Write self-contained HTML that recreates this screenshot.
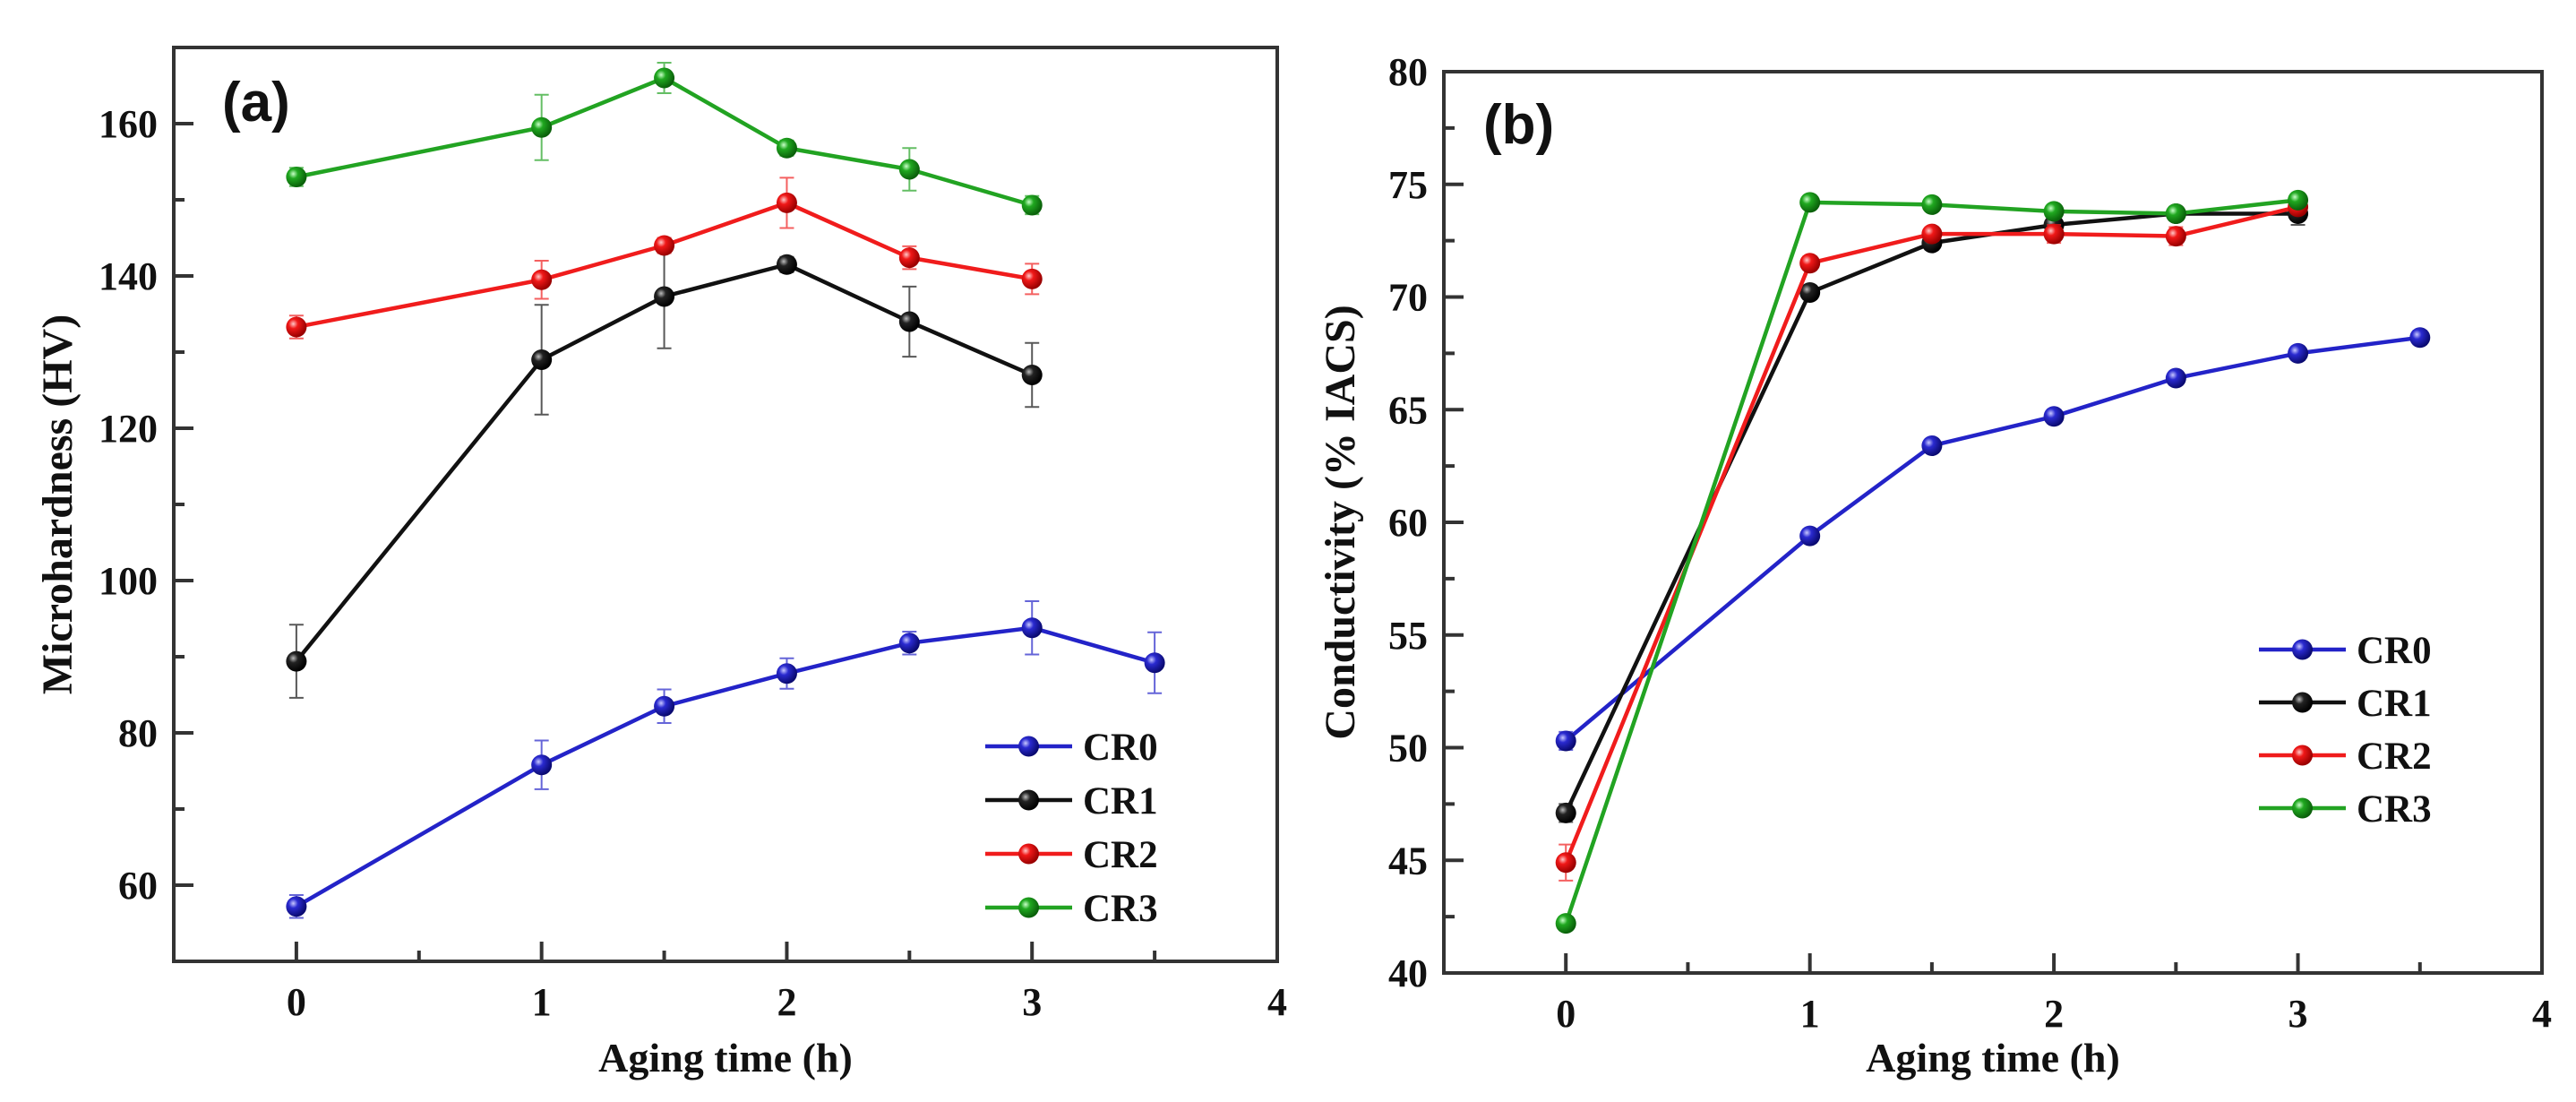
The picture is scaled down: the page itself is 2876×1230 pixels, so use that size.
<!DOCTYPE html>
<html><head><meta charset="utf-8"><style>
html,body{margin:0;padding:0;background:#fff;}
svg{display:block;}
text{font-family:"Liberation Serif",serif;font-weight:bold;fill:#111;}
</style></head><body>
<svg id="fig" width="2876" height="1230" viewBox="0 0 2876 1230" xmlns="http://www.w3.org/2000/svg">
<defs>
<radialGradient id="gBlue" cx="35%" cy="35%" r="65%"><stop offset="0" stop-color="#c8c8ff"/><stop offset="0.35" stop-color="#2a2ad0"/><stop offset="1" stop-color="#0a0a70"/></radialGradient>
<radialGradient id="gBlack" cx="35%" cy="35%" r="65%"><stop offset="0" stop-color="#bbbbbb"/><stop offset="0.35" stop-color="#222"/><stop offset="1" stop-color="#000"/></radialGradient>
<radialGradient id="gRed" cx="35%" cy="35%" r="65%"><stop offset="0" stop-color="#ffc8c8"/><stop offset="0.35" stop-color="#f01818"/><stop offset="1" stop-color="#900"/></radialGradient>
<radialGradient id="gGreen" cx="35%" cy="35%" r="65%"><stop offset="0" stop-color="#c8ffc8"/><stop offset="0.35" stop-color="#20a820"/><stop offset="1" stop-color="#0a600a"/></radialGradient>
</defs>
</svg>
<script>
// ---- Data ----
const seriesNames = ["CR0","CR1","CR2","CR3"];
const seriesColors = ["#2323c8","#111111","#f01c1c","#22a322"];
const seriesFills = ["url(#gBlue)","url(#gBlack)","url(#gRed)","url(#gGreen)"];

const hardX0 = [0,1,1.5,2,2.5,3,3.5];
const hardY0 = [57.2,75.8,83.5,87.8,91.8,93.8,89.2];
const hardE0 = [1.5,3.2,2.2,2.0,1.5,3.5,4.0];
const hardX1 = [0,1,1.5,2,2.5,3];
const hardY1 = [89.4,129.0,137.3,141.5,134.0,127.0];
const hardE1 = [4.8,7.2,6.8,1.0,4.6,4.2];
const hardX2 = [0,1,1.5,2,2.5,3];
const hardY2 = [133.3,139.5,144.0,149.6,142.4,139.6];
const hardE2 = [1.5,2.5,1.0,3.3,1.5,2.0];
const hardX3 = [0,1,1.5,2,2.5,3];
const hardY3 = [153.0,159.5,166.0,156.8,154.0,149.3];
const hardE3 = [1.2,4.3,2.0,1.0,2.8,1.2];

const condX0 = [0,1,1.5,2,2.5,3,3.5];
const condY0 = [50.3,59.4,63.4,64.7,66.4,67.5,68.2];
const condE0 = [0.4,0.3,0.3,0.3,0.3,0.3,0.3];
const condX1 = [0,1,1.5,2,2.5,3];
const condY1 = [47.1,70.2,72.4,73.2,73.7,73.7];
const condE1 = [0.4,0.3,0.3,0.3,0.3,0.5];
const condX2 = [0,1,1.5,2,2.5,3];
const condY2 = [44.9,71.5,72.8,72.8,72.7,74.0];
const condE2 = [0.8,0.3,0.3,0.4,0.4,0.3];
const condX3 = [0,1,1.5,2,2.5,3];
const condY3 = [42.2,74.2,74.1,73.8,73.7,74.3];
const condE3 = [0.3,0.2,0.2,0.2,0.2,0.2];

const xTicks = [0,1,2,3,4];
const hardTicks = [60,80,100,120,140,160];
const condTicks = [40,45,50,55,60,65,70,75,80];

// ---- Drawing ----
const NS = "http://www.w3.org/2000/svg";
const svg = document.getElementById("fig");
function el(tag, attrs, parent){
  const e = document.createElementNS(NS, tag);
  for (const k in attrs) e.setAttribute(k, attrs[k]);
  (parent||svg).appendChild(e);
  return e;
}

function panel(cfg){
  const g = el("g", {});
  
  
  const sx = v => cfg.L + (v - cfg.xmin) * (cfg.R - cfg.L) / (cfg.xmax - cfg.xmin);
  const sy = v => cfg.B - (v - cfg.ymin) * (cfg.B - cfg.T) / (cfg.ymax - cfg.ymin);

  // series
  cfg.series.forEach((s, i) => {
    const sg = el("g", {}, g);
    
    
    // error bars
    s.x.forEach((xv, j) => {
      const e = s.e[j]; const cx = sx(xv);
      const eb = el("path", {d:`M${cx},${sy(s.y[j]-e)}V${sy(s.y[j]+e)}M${cx-8},${sy(s.y[j]-e)}H${cx+8}M${cx-8},${sy(s.y[j]+e)}H${cx+8}`,
        stroke:seriesColors[i], "stroke-width":2, fill:"none", opacity:0.7}, sg);
      
      
    });
    const pts = s.x.map((xv, j) => sx(xv) + "," + sy(s.y[j])).join(" ");
    const ln = el("polyline", {points:pts, fill:"none", stroke:seriesColors[i], "stroke-width":4.5, "stroke-linejoin":"round"}, sg);
    
    
    s.x.forEach((xv, j) => {
      const c = el("circle", {cx:sx(xv), cy:sy(s.y[j]), r:11.5, fill:seriesFills[i]}, sg);
      
      
    });
  });

  // frame
  const fr = el("rect", {x:cfg.L, y:cfg.T, width:cfg.R-cfg.L, height:cfg.B-cfg.T, fill:"none", stroke:"#333", "stroke-width":4}, g);
  
  

  // x ticks
  for (let v = cfg.xmin; v <= cfg.xmax + 1e-9; v += 0.5) {
    const major = Math.abs(v - Math.round(v)) < 1e-9;
    el("line", {x1:sx(v), x2:sx(v), y1:cfg.B, y2:cfg.B - (major ? 22 : 12), stroke:"#333", "stroke-width":4}, g);
  }
  xTicks.forEach(v => {
    const t = el("text", {x:sx(v), y:cfg.B + 60, "text-anchor":"middle", "font-size":44}, g);
    t.textContent = v;
    
    
  });
  // y ticks
  for (let v = cfg.ymin; v <= cfg.ymax + 1e-9; v += cfg.yminor) {
    const major = cfg.yticks.some(t => Math.abs(t - v) < 1e-9);
    el("line", {x1:cfg.L, x2:cfg.L + (major ? 22 : 12), y1:sy(v), y2:sy(v), stroke:"#333", "stroke-width":4}, g);
  }
  cfg.yticks.forEach(v => {
    const t = el("text", {x:cfg.L - 18, y:sy(v) + 15, "text-anchor":"end", "font-size":44}, g);
    t.textContent = v;
    
    
  });
  // axis titles
  const xt = el("text", {x:(cfg.L + cfg.R) / 2, y:1196, "text-anchor":"middle", "font-size":46}, g);
  xt.textContent = "Aging time (h)";
  
  
  const yt = el("text", {x:0, y:0, "text-anchor":"middle", "font-size":48, transform:`translate(${cfg.ytx},${(cfg.T + cfg.B) / 2}) rotate(-90)`}, g);
  yt.textContent = cfg.ytitle;
  
  
  // panel label
  const pl = el("text", {x:cfg.plx, y:cfg.ply, "font-size":62, style:'font-family:"Liberation Sans",sans-serif'}, g);
  pl.textContent = cfg.label;
  
  
  // legend
  const lg = el("g", {}, g);
  
  
  seriesNames.forEach((n, i) => {
    const y = cfg.legY + i * cfg.legDy;
    const eg = el("g", {}, lg);
    
    
    el("line", {x1:cfg.legX, x2:cfg.legX + cfg.legW, y1:y, y2:y, stroke:seriesColors[i], "stroke-width":4.5}, eg);
    el("circle", {cx:cfg.legX + cfg.legW / 2, cy:y, r:11.5, fill:seriesFills[i]}, eg);
    const t = el("text", {x:cfg.legX + cfg.legW + 12, y:y + 15, "font-size":43}, eg);
    t.textContent = n;
  });
}

panel({name:"panel-a-microhardness", L:194, R:1426, T:53, B:1073, xmin:-0.5, xmax:4, ymin:50, ymax:170,
  yticks:hardTicks, yminor:10, ytitle:"Microhardness (HV)", ytx:80, label:"(a)", plx:248, ply:135,
  legX:1100, legW:97, legY:833, legDy:60,
  series:[{x:hardX0,y:hardY0,e:hardE0},{x:hardX1,y:hardY1,e:hardE1},{x:hardX2,y:hardY2,e:hardE2},{x:hardX3,y:hardY3,e:hardE3}]});

panel({name:"panel-b-conductivity", L:1612, R:2838, T:80, B:1086, xmin:-0.5, xmax:4, ymin:40, ymax:80,
  yticks:condTicks, yminor:2.5, ytitle:"Conductivity (% IACS)", ytx:1512, label:"(b)", plx:1656, ply:160,
  legX:2522, legW:97, legY:725, legDy:59,
  series:[{x:condX0,y:condY0,e:condE0},{x:condX1,y:condY1,e:condE1},{x:condX2,y:condY2,e:condE2},{x:condX3,y:condY3,e:condE3}]});
</script>
</body></html>
